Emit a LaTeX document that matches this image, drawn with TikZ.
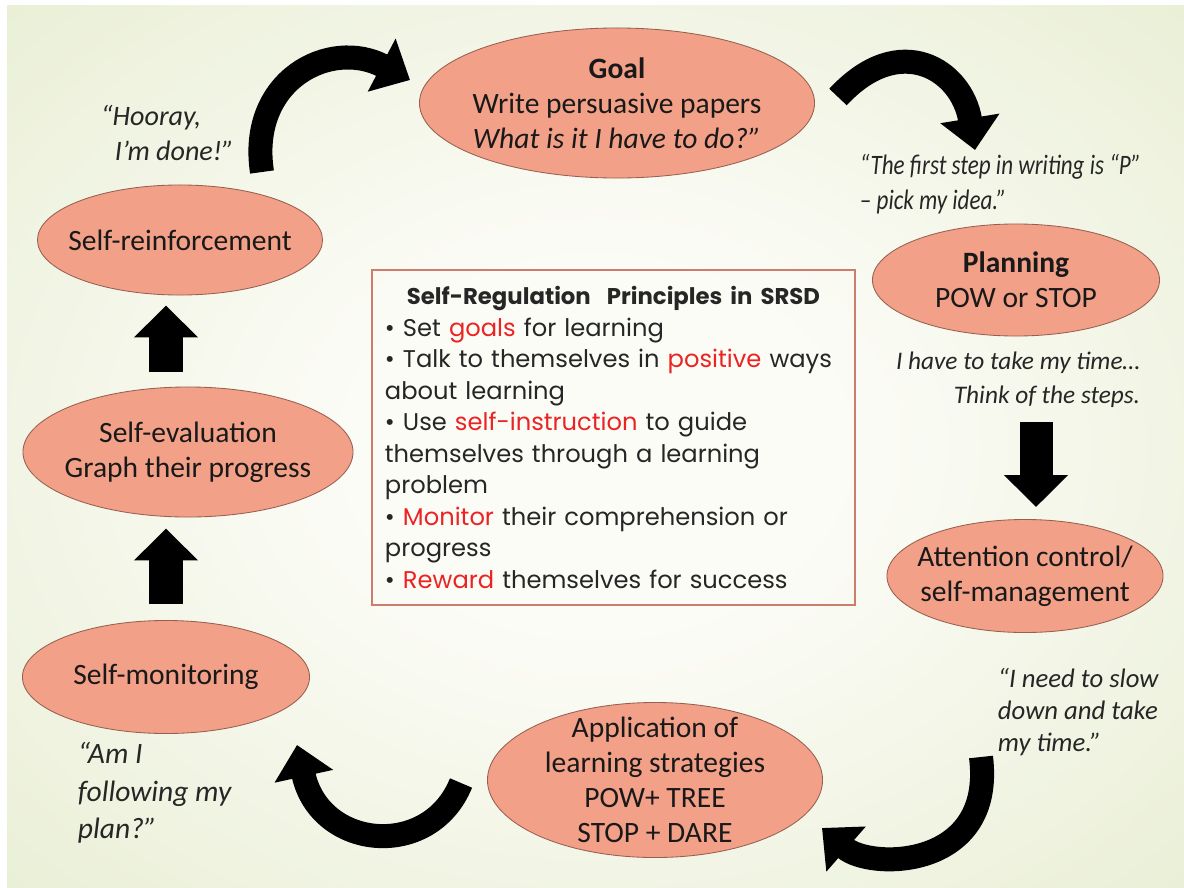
\documentclass[tikz,border=0pt]{standalone}
\usepackage{fontspec}
\setmainfont{Carlito}
\newfontfamily\cadrefont{Poppins}
\usetikzlibrary{shapes.geometric,arrows.meta}
\definecolor{monsaumon}{RGB}{242,160,136}
\definecolor{monbord}{RGB}{150,95,80}
\definecolor{monrouge}{RGB}{235,35,35}
\definecolor{moncadre}{RGB}{205,125,110}
\definecolor{montexte}{RGB}{38,38,38}
\definecolor{fondclair}{RGB}{252,252,247}
\definecolor{fondbord}{RGB}{225,233,199}
\definecolor{fondcoin}{RGB}{211,224,177}
\pgfdeclareradialshading{fondhalo}{\pgfpoint{0bp}{0bp}}{color(0bp)=(fondclair); color(10bp)=(fondclair); color(48bp)=(fondbord); color(71bp)=(fondcoin)}

\begin{document}
\begin{tikzpicture}[x=0.025cm,y=-0.025cm,
	etape/.style={ellipse,draw=monbord,fill=monsaumon,line width=0.6pt,inner sep=0pt},
	texte/.style={align=center,text=black!90,font=\fontsize{21}{25}\selectfont},
	citation/.style={text=montexte,font=\fontsize{20}{25}\selectfont\itshape},
	fleche/.style={line width=0.825cm,-{Triangle[width=1.55cm,length=0.8cm]}},
	courbe/.style={line width=0.6cm,-{Triangle[width=1.45cm,length=0.8cm]}},
	principes/.style={draw=moncadre,line width=0.9pt,minimum width=12.075cm,minimum height=8.375cm,
		text width=11.425cm,inner sep=0.325cm,align=left,text=montexte,
		font=\cadrefont\fontsize{17.2}{22.4}\selectfont}]
	% Fond %
	\useasboundingbox (0,0) rectangle (1184,888);
	\fill[white] (0,0) rectangle (1184,888);
	\fill[shading=fondhalo] (7,5) rectangle (1184,888);
	% Etapes %
	\node[etape,minimum width=9.875cm,minimum height=3.75cm] (goal) at (617,103) {};
	\node[texte] (goaltext) at (goal) {\textbf{Goal}\\Write persuasive papers\\\textit{What is it I have to do?”}};
	\node[etape,minimum width=7.175cm,minimum height=2.8cm] (planning) at (1016,280) {};
	\node[texte] (planningtext) at (planning) {\textbf{Planning}\\POW or STOP};
	\node[etape,minimum width=6.9cm,minimum height=2.825cm] (attention) at (1025,576) {};
	\node[texte] (attentiontext) at (attention) {Attention control/\\self-management};
	\node[etape,minimum width=8.375cm,minimum height=3.875cm] (application) at (655,780) {};
	\node[texte] (applicationtext) at (application) {Application of\\learning strategies\\POW+ TREE\\STOP + DARE};
	\node[etape,minimum width=7.175cm,minimum height=2.825cm] (selfmon) at (166,677) {};
	\node[texte] (selfmontext) at (selfmon) {Self-monitoring};
	\node[etape,minimum width=8.25cm,minimum height=3.25cm] (selfeval) at (188,452) {};
	\node[texte] (selfevaltext) at (selfeval) {Self-evaluation\\Graph their progress};
	\node[etape,minimum width=7.125cm,minimum height=2.75cm] (selfreinf) at (180,240) {};
	\node[texte] (selfreinftext) at (selfreinf) {Self-reinforcement};
	% Citations %
	\node[citation,anchor=west,align=left] (hooray) at (96,133) {“Hooray,\\\hspace{0.35cm}I’m done!”};
	\node[citation,anchor=west,align=left] (pickidea) at (855,184) {\scalebox{0.82}[1]{“The first step in writing is “P”}\\\scalebox{0.82}[1]{– pick my idea.”}};
	\node[citation,anchor=east,align=right,font=\fontsize{18}{24.5}\selectfont\itshape] (mytime) at (1145,380) {I have to take my time…\\Think of the steps.};
	\node[citation,anchor=west,align=left,font=\fontsize{19}{23}\selectfont\itshape] (slowdown) at (993,712) {“I need to slow\\down and take\\my time.”};
	\node[citation,anchor=west,align=left,font=\fontsize{21}{26.5}\selectfont\itshape] (myplan) at (73,793) {“Am I\\following my\\plan?”};
	% Principes %
	\node[principes] (srsd) at (613.5,437.5) {\makebox[\linewidth]{\bfseries\fontsize{16.2}{22.4}\selectfont Self-Regulation\ \ Principles in SRSD}\\
		• Set \textcolor{monrouge}{goals} for learning\\
		• Talk to themselves in \textcolor{monrouge}{positive} ways\\
		about learning\\
		• Use \textcolor{monrouge}{self-instruction} to guide\\
		themselves through a learning\\
		problem\\
		• \textcolor{monrouge}{Monitor} their comprehension or\\
		progress\\
		• \textcolor{monrouge}{Reward} themselves for success};
	% Fleches droites %
	\draw[fleche,shorten <=0.375cm,shorten >=0.25cm] (selfeval.north -| selfmon) -- (selfreinf.south -| selfmon);
	\draw[fleche,shorten <=0.39cm,shorten >=0.275cm] (selfmon.north) -- (selfeval.south -| selfmon);
	\draw[fleche,shorten <=2.15cm,shorten >=0.3cm] ([xshift=0.5cm]planning.south) -- ([xshift=0.5cm]planning.south |- attention.north);
	% Fleches courbes %
	\coordinate (hooraytail) at (262,172);
	\coordinate (goalhead) at (410,80);
	\coordinate (goaltail) at (838,97);
	\coordinate (planninghead) at (975,150);
	\coordinate (slowtail) at (981,757);
	\coordinate (applicationhead) at (822,828);
	\coordinate (applicationtail) at (461,783);
	\coordinate (selfmonhead) at (297,745);
	\draw[courbe] (hooraytail) .. controls (248,80) and (330,38) .. (goalhead);
	\draw[courbe] (goaltail) .. controls (900,30) and (962,70) .. (planninghead);
	\draw[courbe] (slowtail) .. controls (995,870) and (870,870) .. (applicationhead);
	\draw[courbe] (applicationtail) .. controls (430,860) and (320,850) .. (selfmonhead);
\end{tikzpicture}
\end{document}
